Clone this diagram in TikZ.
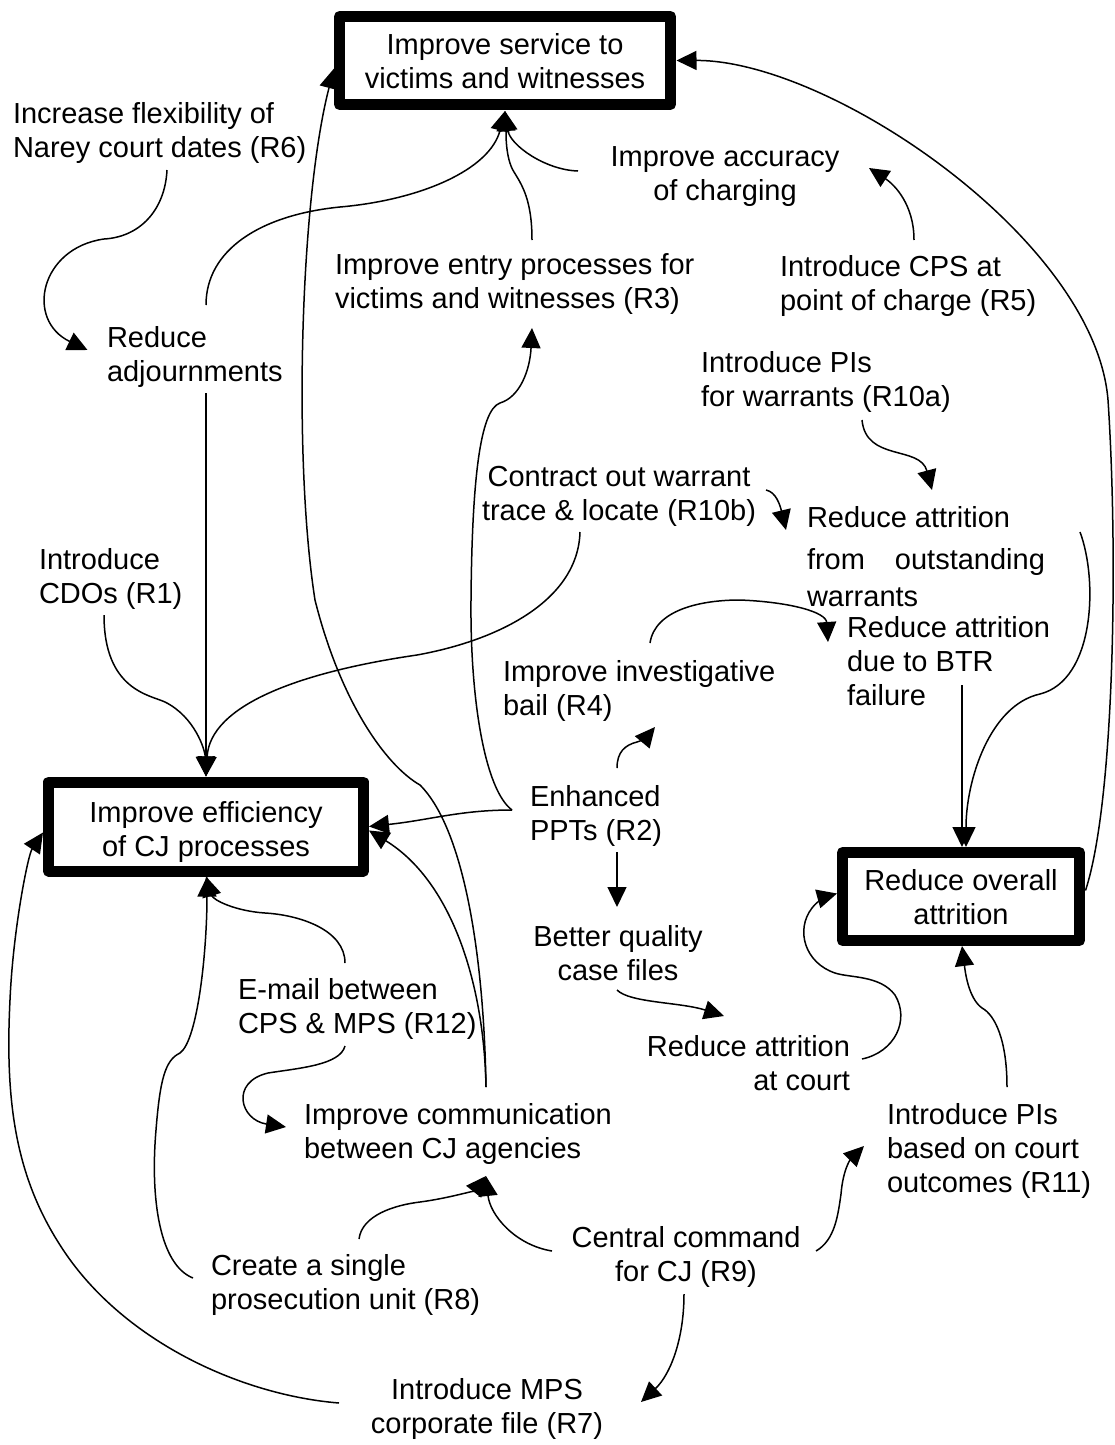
\documentclass[tikz,border=0pt]{standalone}
\usepackage{fontspec}
\setmainfont{Liberation Sans}
\usetikzlibrary{arrows.meta,calc}
\newcommand{\boxlines}[2]{\raisebox{#1}[\height][\depth]{\begin{tabular}{@{}c@{}}#2\end{tabular}}}
\begin{document}
\begin{tikzpicture}[x=1pt,y=-1pt,
  every node/.style={font=\fontsize{29}{34}\selectfont},
  lbl/.style={inner sep=0pt, outer sep=0pt},
  goal/.style={draw, line width=11pt, line join=round, inner sep=0pt, outer sep=0pt},
  conn/.style={line width=1.5pt, -{Triangle[length=20pt,width=19pt]}}
]
\useasboundingbox (0,0) rectangle (1115,1445);

% goal boxes
\node[goal, minimum width=331pt, minimum height=88pt] (S) at (505,60.5) {\boxlines{-4pt}{Improve service to\\victims and witnesses}};
\node[goal, minimum width=315pt, minimum height=89pt] (CJ) at (206,826.5) {\boxlines{-6pt}{Improve efficiency\\of CJ processes}};
\node[goal, minimum width=237pt, minimum height=88pt] (RO) at (961,896.5) {\boxlines{-4pt}{Reduce overall\\attrition}};

% text nodes
\node[lbl, anchor=north west, align=left] (R6) at (13,100) {\strut Increase flexibility of\\Narey court dates (R6)};
\node[lbl, anchor=north west, align=left] (RA) at (107,324) {\strut Reduce\\adjournments};
\node[lbl, anchor=north west, align=left] (R3) at (335,251) {\strut Improve entry processes for\\victims and witnesses (R3)};
\node[lbl, anchor=north, align=center] (AC) at (725,143) {\strut Improve accuracy\\of charging};
\node[lbl, anchor=north west, align=left] (R5) at (780,253) {\strut Introduce CPS at\\point of charge (R5)};
\node[lbl, anchor=north west, align=left] (R10a) at (701,349) {\strut Introduce PIs\\for warrants (R10a)};
\node[lbl, anchor=north, align=center] (R10b) at (619,463) {\strut Contract out warrant\\trace \& locate (R10b)};
\node[lbl, anchor=north west, align=left] (WA) at (807,504) {\strut Reduce attrition\\[8pt]from\hspace{30pt}outstanding\\[3pt]warrants};
\node[lbl, anchor=north west, align=left] (BTR) at (847,614) {\strut Reduce attrition\\due to BTR\\failure};
\node[lbl, anchor=north west, align=left] (IB) at (503,658) {\strut Improve investigative\\bail (R4)};
\node[lbl, anchor=north west, align=left] (PPT) at (530,783) {\strut Enhanced\\PPTs (R2)};
\node[lbl, anchor=north, align=center] (BQ) at (618,923) {\strut Better quality\\case files};
\node[lbl, anchor=north east, align=right] (RC) at (850,1033) {\strut Reduce attrition\\at court};
\node[lbl, anchor=north west, align=left] (CO) at (304,1101) {\strut Improve communication\\between CJ agencies};
\node[lbl, anchor=north west, align=left] (R11) at (887,1101) {\strut Introduce PIs\\based on court\\outcomes (R11)};
\node[lbl, anchor=north west, align=left] (R12) at (238,976) {\strut E-mail between\\CPS \& MPS (R12)};
\node[lbl, anchor=north, align=center] (R9) at (686,1224) {\strut Central command\\for CJ (R9)};
\node[lbl, anchor=north west, align=left] (R8) at (211,1252) {\strut Create a single\\prosecution unit (R8)};
\node[lbl, anchor=north, align=center] (R7) at (487,1376) {\strut Introduce MPS\\corporate file (R7)};
\node[lbl, anchor=north west, align=left] (R1) at (39,546) {\strut Introduce\\CDOs (R1)};

% connectors
\draw[conn] ($(R6.north west)+(154,70)$) .. controls (165,210) and (140,237) .. (104,239) .. controls (40,248) and (25,320) .. ($(RA.north west)+(-19.5,26)$);
\draw[conn] ($(RA.north west)+(99,-19)$) .. controls (206,250) and (260,215) .. (340,207) .. controls (420,200) and (490,170) .. ($(S.south)+(0,6.5)$);
\draw[conn] ($(R3.north west)+(197,-11)$) .. controls (532,200) and (522,185) .. (514,172) .. controls (505,158) and (506,130) .. ($(S.south)+(0,6.5)$);
\draw[conn] ($(AC.north)+(-147,28)$) .. controls (545,170) and (510,145) .. ($(S.south)+(0,6.5)$);
\draw[conn] ($(R5.north west)+(134,-13)$) .. controls (914,205) and (895,185) .. ($(AC.north)+(144,25)$);
\draw[conn] ($(RO.east)+(6,-6)$) .. controls (1115,800) and (1118,550) .. (1108,400) .. controls (1095,240) and (830,60) .. ($(S.east)+(6,0)$);
\draw[conn] ($(R10a.north west)+(161,71)$) .. controls (866,462) and (920,445) .. ($(WA.north west)+(125,-14)$);
\draw[conn] ($(R10b.north)+(147,27)$) .. controls (776,492) and (780,505) .. ($(WA.north west)+(-21,26)$);
\draw[conn] ($(R10b.north)+(-39,69)$) .. controls (578,600) and (500,640) .. (417,655) .. controls (300,672) and (210,705) .. ($(CJ.north)+(0,-5.5)$);
\draw[conn] ($(R1.north west)+(65,69)$) .. controls (104,690) and (150,695) .. (165,702) .. controls (195,717) and (205,750) .. ($(CJ.north)+(0,-5.5)$);
\draw[conn] ($(RA.north west)+(99,69)$) -- ($(CJ.north)+(0,-5.5)$);
\draw[conn] ($(PPT.north west)+(-18,27)$) .. controls (460,810) and (430,820) .. ($(CJ.east)+(5.5,0)$);
\draw[conn] ($(PPT.north west)+(-18,27)$) .. controls (485,790) and (470,700) .. (471,600) .. controls (472,480) and (480,410) .. (500,403) .. controls (520,397) and (530,370) .. ($(R3.north west)+(197,77)$);
\draw[conn] ($(PPT.north west)+(87,-15)$) .. controls (617,752) and (625,745) .. (637,742) .. controls (645,740) and (650,733) .. ($(IB.north west)+(152,69)$);
\draw[conn] ($(PPT.north west)+(87,69)$) -- ($(BQ.north)+(-1,-16)$);
\draw[conn] ($(IB.north west)+(147,-15)$) .. controls (655,610) and (700,600) .. (740,600) .. controls (790,602) and (826,612) .. ($(BTR.north west)+(-19,28)$);
\draw[conn] ($(BTR.north west)+(115,71)$) -- ($(RO.north)+(1,-5.5)$);
\draw[conn] ($(WA.north west)+(273,28)$) .. controls (1098,580) and (1095,680) .. (1040,694) .. controls (990,705) and (966,780) .. ($(RO.north)+(5,-5.5)$);
\draw[conn] ($(BQ.north)+(-1,67)$) .. controls (630,1003) and (680,1002) .. ($(RC.north east)+(-126,-17)$);
\draw[conn] ($(RC.north east)+(12,26)$) .. controls (895,1052) and (910,1020) .. (895,995) .. controls (880,975) and (850,978) .. (835,973) .. controls (805,963) and (795,930) .. (812,908) .. controls (818,900) and (828,896) .. ($(RO.west)+(-5.5,-3)$);
\draw[conn] ($(R11.north west)+(120,-14)$) .. controls (1007,1040) and (995,1015) .. (982,1008) .. controls (968,998) and (965,970) .. ($(RO.south)+(1,5.5)$);
\draw[conn] ($(R9.north)+(130,27)$) .. controls (835,1240) and (838,1215) .. (841,1194) .. controls (843,1170) and (850,1160) .. ($(R11.north west)+(-23,45)$);
\draw[conn] ($(R9.north)+(-134,27)$) .. controls (515,1245) and (490,1215) .. ($(CO.north west)+(182,75)$);
\draw[conn] ($(R8.north west)+(148,-13)$) .. controls (362,1215) and (395,1205) .. (420,1202) .. controls (450,1198) and (475,1190) .. ($(CO.north west)+(182,75)$);
\draw[conn] ($(R12.north west)+(107,70)$) .. controls (340,1065) and (300,1068) .. (268,1073) .. controls (230,1082) and (240,1120) .. ($(CO.north west)+(-18,26)$);
\draw[conn] ($(R12.north west)+(107,-13)$) .. controls (345,930) and (300,915) .. (265,913) .. controls (235,911) and (213,900) .. ($(CJ.south)+(0,5.5)$);
\draw[conn] ($(R8.north west)+(-18,26)$) .. controls (160,1265) and (150,1200) .. (156,1130) .. controls (160,1080) and (165,1060) .. (180,1053) .. controls (198,1040) and (207,950) .. ($(CJ.south)+(1,5.5)$);
\draw[conn] ($(R7.north)+(-148,27)$) .. controls (240,1395) and (120,1340) .. (60,1245) .. controls (15,1175) and (5,1100) .. (10,1000) .. controls (13,930) and (28,855) .. ($(CJ.west)+(-5.5,6)$);
\draw[conn] ($(CO.north west)+(182,-14)$) .. controls (484,960) and (465,830) .. (420,785) .. controls (385,765) and (340,700) .. (315,600) .. controls (293,460) and (300,200) .. ($(S.west)+(-5.5,8)$);
\draw[conn] ($(CO.north west)+(182,-14)$) .. controls (484,980) and (450,880) .. ($(CJ.east)+(5.5,4)$);
\draw[conn] ($(R9.north)+(-2,70)$) .. controls (684,1340) and (670,1375) .. ($(R7.north)+(154,26)$);
\end{tikzpicture}
\end{document}
